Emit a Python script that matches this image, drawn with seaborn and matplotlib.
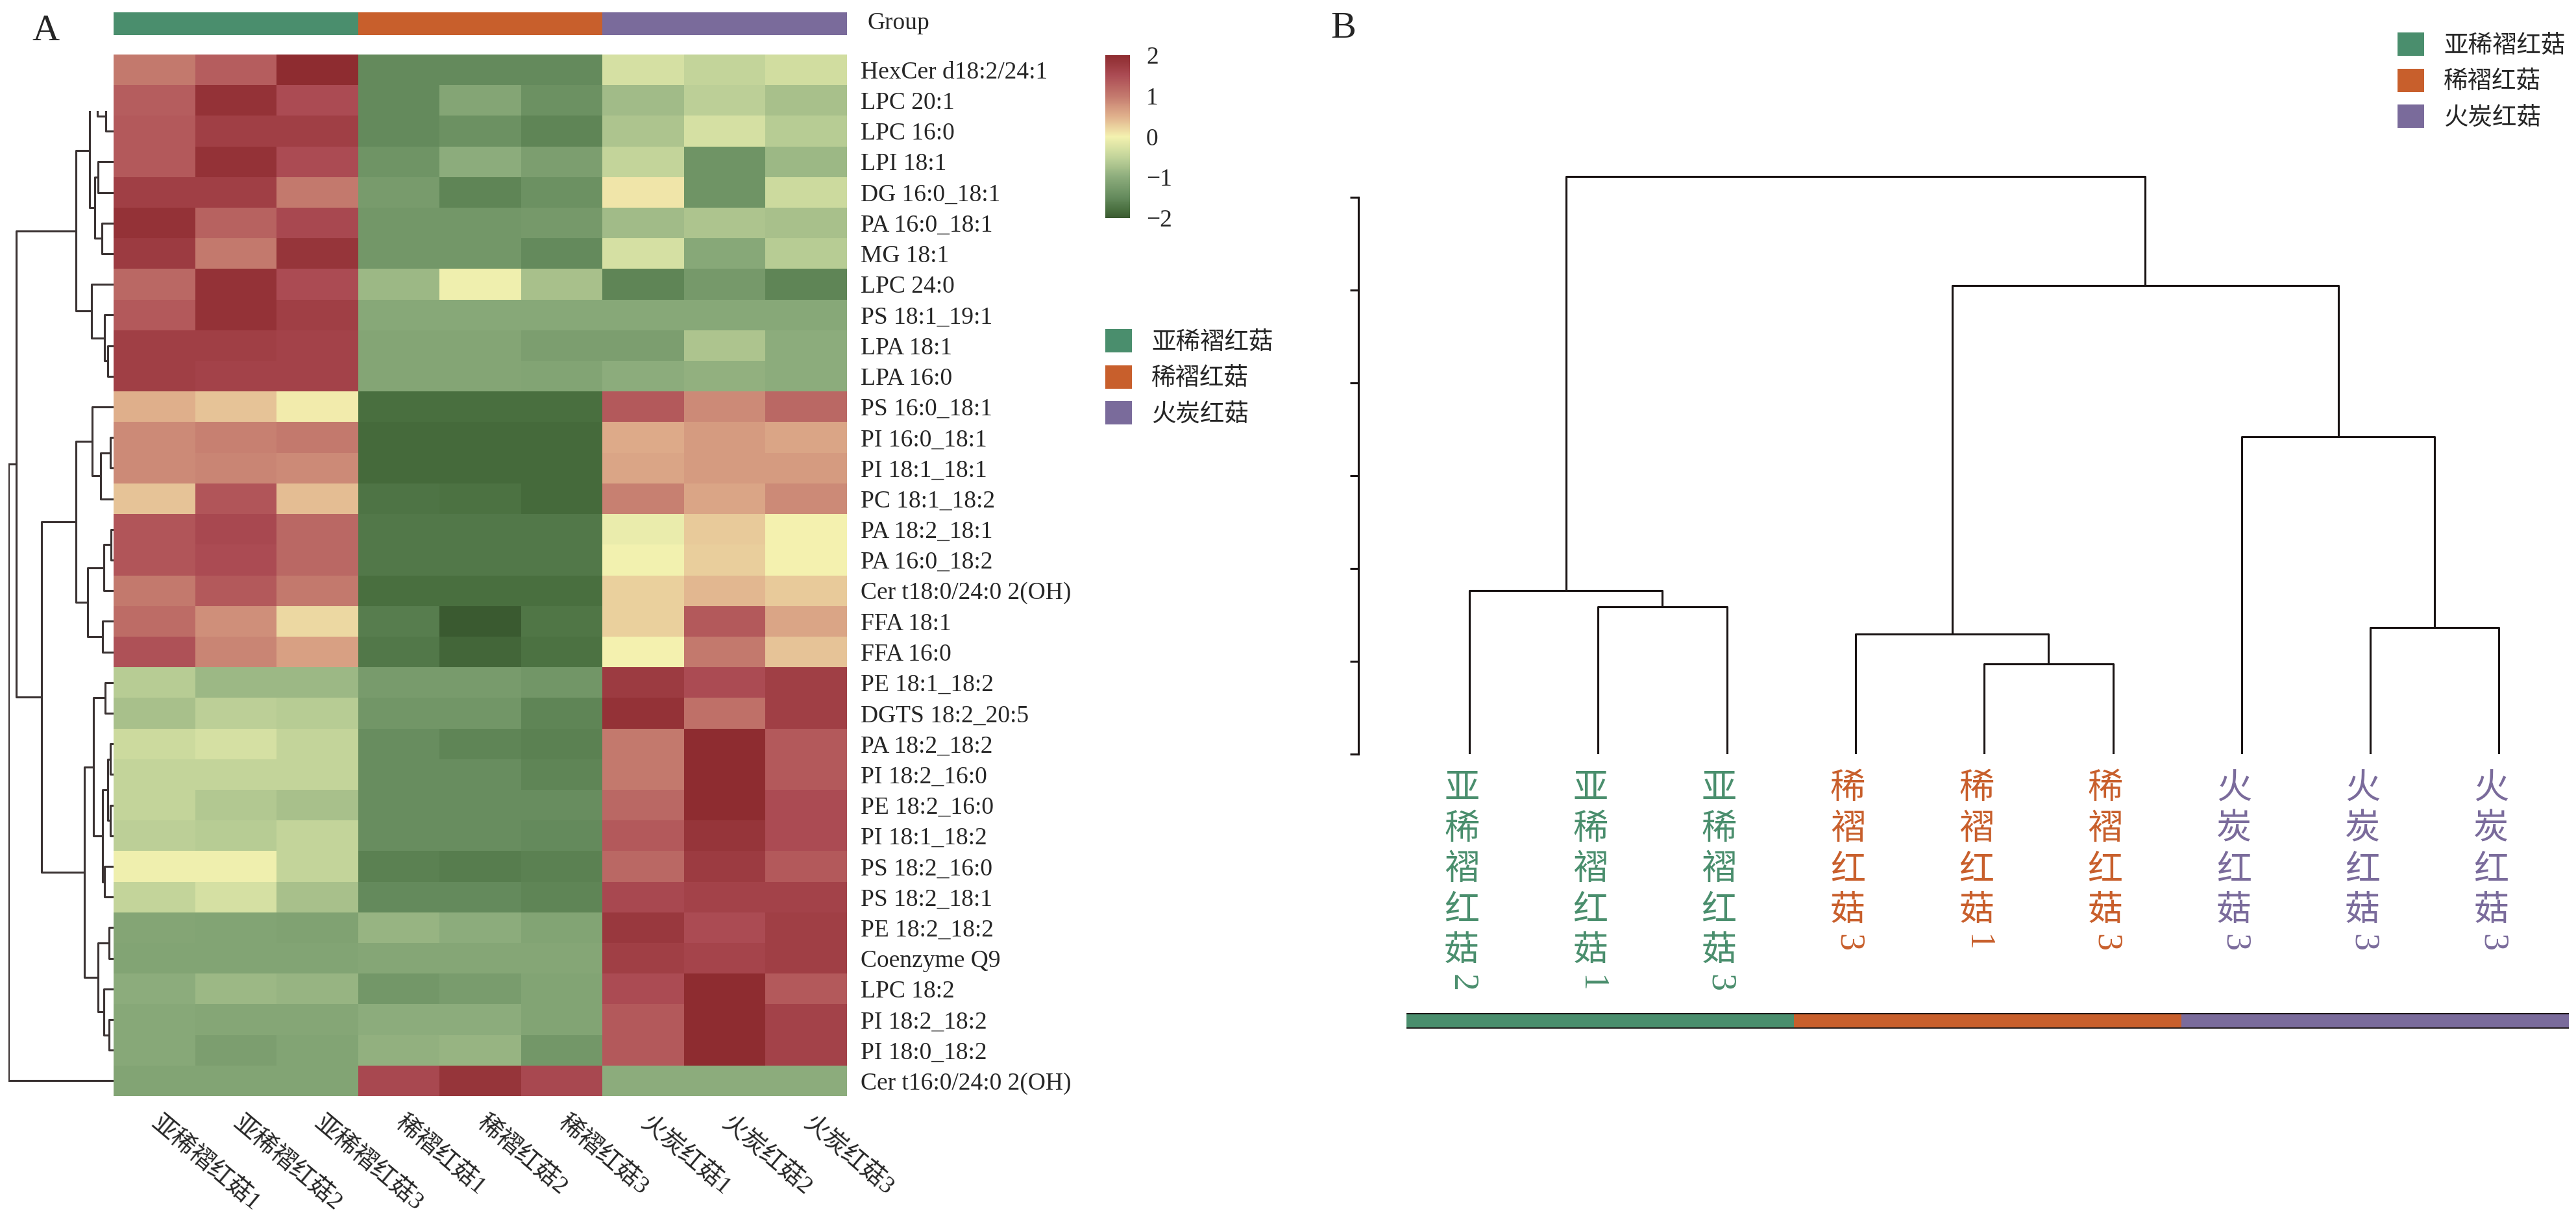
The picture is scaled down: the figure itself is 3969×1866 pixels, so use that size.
import numpy as np
import pandas as pd
import matplotlib
matplotlib.use('Agg')
import matplotlib.pyplot as plt
import matplotlib.transforms as mtransforms
import seaborn as sns
from matplotlib.colors import LinearSegmentedColormap, ListedColormap
from matplotlib.patches import Patch

# ---- data ----
ROW_LABELS = ['HexCer d18:2/24:1', 'LPC 20:1', 'LPC 16:0', 'LPI 18:1', 'DG 16:0_18:1',
              'PA 16:0_18:1', 'MG 18:1', 'LPC 24:0', 'PS 18:1_19:1', 'LPA 18:1', 'LPA 16:0',
              'PS 16:0_18:1', 'PI 16:0_18:1', 'PI 18:1_18:1', 'PC 18:1_18:2', 'PA 18:2_18:1',
              'PA 16:0_18:2', 'Cer t18:0/24:0 2(OH)', 'FFA 18:1', 'FFA 16:0', 'PE 18:1_18:2',
              'DGTS 18:2_20:5', 'PA 18:2_18:2', 'PI 18:2_16:0', 'PE 18:2_16:0', 'PI 18:1_18:2',
              'PS 18:2_16:0', 'PS 18:2_18:1', 'PE 18:2_18:2', 'Coenzyme Q9', 'LPC 18:2',
              'PI 18:2_18:2', 'PI 18:0_18:2', 'Cer t16:0/24:0 2(OH)']
COL_LABELS = ['亚稀褶红菇1', '亚稀褶红菇2', '亚稀褶红菇3', '稀褶红菇1', '稀褶红菇2', '稀褶红菇3',
              '火炭红菇1', '火炭红菇2', '火炭红菇3']
GROUP_NAMES = ['亚稀褶红菇', '稀褶红菇', '火炭红菇']
GROUP_CODES = [0, 0, 0, 1, 1, 1, 2, 2, 2]

# z-scores, one small table per species (rows follow ROW_LABELS)
VALS_YAXI = [
    [1.0, 1.3, 2.0], [1.3, 1.9, 1.5], [1.35, 1.7, 1.7], [1.35, 1.9, 1.5], [1.7, 1.7, 1.0],
    [1.9, 1.25, 1.55], [1.75, 1.0, 1.85], [1.2, 1.9, 1.5], [1.35, 1.9, 1.7], [1.7, 1.7, 1.65],
    [1.7, 1.65, 1.65], [0.5, 0.35, 0.05], [0.85, 0.95, 1.0], [0.85, 0.9, 0.85], [0.35, 1.4, 0.4],
    [1.4, 1.55, 1.2], [1.4, 1.5, 1.2], [1.0, 1.35, 1.0], [1.15, 0.8, 0.2], [1.45, 0.9, 0.65],
    [-0.6, -0.85, -0.85], [-0.75, -0.55, -0.6], [-0.4, -0.3, -0.5], [-0.5, -0.5, -0.5],
    [-0.5, -0.65, -0.75], [-0.55, -0.6, -0.5], [-0.05, -0.05, -0.5], [-0.5, -0.3, -0.75],
    [-1.1, -1.12, -1.15], [-1.12, -1.12, -1.12], [-1.0, -0.85, -0.9], [-1.05, -1.08, -1.08],
    [-1.05, -1.2, -1.12], [-1.12, -1.12, -1.12]]
VALS_XIZHE = [
    [-1.5, -1.5, -1.5], [-1.5, -1.1, -1.4], [-1.5, -1.4, -1.55], [-1.35, -1.0, -1.2],
    [-1.25, -1.55, -1.4], [-1.3, -1.3, -1.28], [-1.3, -1.3, -1.5], [-0.85, -0.05, -0.75],
    [-1.05, -1.05, -1.05], [-1.1, -1.1, -1.2], [-1.1, -1.1, -1.12], [-1.8, -1.8, -1.8],
    [-1.85, -1.85, -1.85], [-1.85, -1.85, -1.85], [-1.75, -1.78, -1.85], [-1.7, -1.7, -1.7],
    [-1.7, -1.7, -1.7], [-1.8, -1.8, -1.8], [-1.65, -2.0, -1.72], [-1.7, -1.88, -1.78],
    [-1.25, -1.25, -1.32], [-1.32, -1.32, -1.55], [-1.45, -1.55, -1.6], [-1.45, -1.45, -1.55],
    [-1.45, -1.45, -1.45], [-1.45, -1.45, -1.5], [-1.6, -1.65, -1.6], [-1.5, -1.5, -1.55],
    [-0.9, -1.0, -1.12], [-1.08, -1.08, -1.08], [-1.3, -1.22, -1.12], [-1.0, -1.0, -1.12],
    [-0.95, -0.9, -1.3], [1.55, 1.85, 1.55]]
VALS_HUOTAN = [
    [-0.3, -0.5, -0.35], [-0.8, -0.55, -0.75], [-0.7, -0.3, -0.6], [-0.5, -1.35, -0.85],
    [0.1, -1.35, -0.4], [-0.8, -0.7, -0.75], [-0.3, -1.05, -0.6], [-1.55, -1.28, -1.55],
    [-1.05, -1.05, -1.05], [-1.2, -0.7, -1.0], [-1.0, -0.95, -1.0], [1.35, 0.85, 1.2],
    [0.55, 0.7, 0.6], [0.6, 0.7, 0.7], [0.95, 0.6, 0.85], [-0.1, 0.3, 0.0], [-0.02, 0.28, 0.0],
    [0.25, 0.45, 0.3], [0.25, 1.35, 0.6], [0.0, 1.0, 0.35], [1.75, 1.5, 1.7], [1.9, 1.1, 1.7],
    [1.0, 2.0, 1.35], [1.0, 2.0, 1.35], [1.2, 2.0, 1.5], [1.35, 1.85, 1.5], [1.2, 1.75, 1.35],
    [1.55, 1.65, 1.65], [1.8, 1.5, 1.7], [1.7, 1.62, 1.7], [1.5, 2.0, 1.35], [1.35, 2.0, 1.65],
    [1.35, 2.0, 1.65], [-1.0, -1.0, -1.0]]

# row clustering: (child a, child b, height); ids >= 34 are earlier merges
ROW_MERGES = [
    (1, 2, 12), (0, 34, 25), (3, 4, 24), (5, 6, 18), (36, 37, 28), (35, 38, 36),
    (9, 10, 9), (8, 40, 14), (7, 41, 33), (39, 42, 57),
    (12, 13, 5), (44, 14, 20), (11, 45, 32), (15, 16, 4), (47, 17, 15), (18, 19, 17),
    (48, 49, 39), (46, 50, 57),
    (20, 21, 13), (22, 23, 5), (24, 25, 5), (53, 54, 9), (26, 27, 14), (55, 56, 17),
    (52, 57, 30), (28, 29, 7), (31, 32, 7), (30, 60, 15), (59, 61, 24), (58, 62, 44),
    (51, 63, 109), (43, 64, 147), (65, 33, 159)]

# sample clustering (panel B)
B_LEAF_LABELS = ['亚稀褶红菇2', '亚稀褶红菇1', '亚稀褶红菇3', '稀褶红菇3', '稀褶红菇1', '稀褶红菇3',
                 '火炭红菇3', '火炭红菇3', '火炭红菇3']
B_LEAF_GROUPS = [0, 0, 0, 1, 1, 1, 2, 2, 2]
B_MERGES = [(1, 2, 1.59), (0, 9, 1.76), (4, 5, 0.97), (3, 11, 1.29), (7, 8, 1.36),
            (6, 13, 3.42), (12, 14, 5.05), (10, 15, 6.22)]

# ---- style ----
W, H, DPI = 3969, 1866, 300
GROUP_COLORS = ['#4a8e6d', '#c85f2c', '#7a6b9b']
CMAP_STOPS = [(-2.0, '#3a5a30'), (-1.8, '#4a7040'), (-1.5, '#648a5c'), (-1.0, '#8cac7c'),
              (-0.5, '#c2d49a'), (0.0, '#f4f2b0'), (0.5, '#e0b08c'), (1.0, '#c47a6e'),
              (1.5, '#ac4c54'), (2.0, '#8e2c30')]

sns.set_theme(style='white')
plt.rcParams['font.family'] = ['Liberation Serif', 'Noto Sans CJK SC']
plt.rcParams['axes.unicode_minus'] = True

cmap = LinearSegmentedColormap.from_list('gyr', [((v + 2) / 4, c) for v, c in CMAP_STOPS])
grp_cmap = ListedColormap(GROUP_COLORS)

fig = plt.figure(figsize=(W / DPI, H / DPI), dpi=DPI)


def px_axes(x0, y0, x1, y1):
    return fig.add_axes([x0 / W, 1 - y1 / H, (x1 - x0) / W, (y1 - y0) / H])


def dendro_segments(merges, leaf_pos):
    n = len(leaf_pos)
    pos = {i: p for i, p in enumerate(leaf_pos)}
    hgt = {i: 0.0 for i in range(n)}
    segs = []
    for k, (a, b, h) in enumerate(merges):
        segs.append(([pos[a], pos[a], pos[b], pos[b]], [hgt[a], h, h, hgt[b]]))
        pos[n + k] = (pos[a] + pos[b]) / 2
        hgt[n + k] = h
    return segs


# ---- panel A ----
data = np.hstack([VALS_YAXI, VALS_XIZHE, VALS_HUOTAN])
df = pd.DataFrame(data, index=ROW_LABELS, columns=COL_LABELS)

ax_hm = px_axes(175, 84, 1305, 1689)
ax_cb = px_axes(1703, 85, 1741, 336)
sns.heatmap(df, ax=ax_hm, cmap=cmap, vmin=-2, vmax=2, cbar_ax=ax_cb,
            xticklabels=True, yticklabels=True)
ax_hm.yaxis.tick_right()
ax_hm.set_yticklabels(ROW_LABELS, rotation=0, fontsize=9)
ax_hm.tick_params(axis='y', length=0, pad=5)
ax_hm.set_xticklabels(COL_LABELS, rotation=-40, ha='left', va='center',
                      rotation_mode='anchor', fontsize=9)
ax_hm.tick_params(axis='x', length=0, pad=9)

cb = ax_hm.collections[0].colorbar
cb.set_ticks([-2, -1, 0, 1, 2])
cb.outline.set_visible(False)
cb.ax.tick_params(direction='in', length=4.5, width=0.9, color='black', labelsize=9, pad=6)
for t in (cb.ax.yaxis.get_major_ticks()[0], cb.ax.yaxis.get_major_ticks()[-1]):
    t.tick1line.set_visible(False)
    t.tick2line.set_visible(False)

ax_grp = px_axes(175, 19, 1305, 54)
sns.heatmap(np.array([GROUP_CODES]), ax=ax_grp, cmap=grp_cmap, vmin=-0.5, vmax=2.5,
            cbar=False, xticklabels=False, yticklabels=False)
fig.text(1336 / W, 1 - 36 / H, 'Group', fontsize=9, va='center', ha='left')

ax_rd = px_axes(13, 171, 175, 1689)
for ys, xs in dendro_segments(ROW_MERGES, [i + 0.5 for i in range(len(ROW_LABELS))]):
    ax_rd.plot(xs, ys, color='#3b3333', lw=0.75, solid_capstyle='butt')
ax_rd.set_xlim(159, 0)
ax_rd.set_ylim(len(ROW_LABELS), 1.84)
ax_rd.axis('off')

handles = [Patch(facecolor=c, edgecolor='none') for c in GROUP_COLORS]
fig.legend(handles, GROUP_NAMES, loc='upper left', bbox_to_anchor=(1703 / W, 1 - 507 / H),
           frameon=False, fontsize=9, handlelength=1.1, handleheight=1.1,
           handletextpad=0.8, labelspacing=0.45, borderpad=0, borderaxespad=0)

fig.text(49 / W, 1 - 48 / H, 'A', fontsize=14, va='center', ha='left')

# ---- panel B ----
ax_b = px_axes(2093, 268, 3900, 1162)
for xs, ys in dendro_segments(B_MERGES, list(range(len(B_LEAF_LABELS)))):
    ax_b.plot(xs, ys, color='#1a1414', lw=0.75, solid_capstyle='butt')
ax_b.set_xlim(-0.8625, 8.25)
ax_b.set_ylim(0, 6.25)
for s in ['top', 'right', 'bottom']:
    ax_b.spines[s].set_visible(False)
ax_b.spines['left'].set_bounds(0, 6)
ax_b.spines['left'].set_color('#1a1414')
ax_b.spines['left'].set_linewidth(0.75)
ax_b.set_yticks(range(7))
ax_b.set_yticklabels([])
ax_b.set_xticks([])
ax_b.tick_params(axis='y', direction='out', length=3.2, width=0.75, color='#1a1414', left=True)

trans = mtransforms.blended_transform_factory(ax_b.transData, fig.transFigure)
for i, lab in enumerate(B_LEAF_LABELS):
    col = GROUP_COLORS[B_LEAF_GROUPS[i]]
    body, digit = lab[:-1], lab[-1]
    for k, ch in enumerate(body):
        ax_b.text(i - 0.06, 1 - (1217 + 62.5 * k) / H, ch, transform=trans, color=col,
                  fontsize=13, ha='center', va='center', clip_on=False)
    ax_b.text(i - 0.06, 1 - (1217 + 62.5 * (len(body) - 1) + 48) / H, digit, transform=trans,
              color=col, fontsize=13, ha='center', va='center', rotation=-90, clip_on=False)

ax_bar = px_axes(2167, 1561, 3958, 1585)
sns.heatmap(np.array([[0, 1, 2]]), ax=ax_bar, cmap=grp_cmap, vmin=-0.5, vmax=2.5,
            cbar=False, xticklabels=False, yticklabels=False)
ax_bar.axhline(0, color='#1a1414', lw=0.9)
ax_bar.axhline(1, color='#1a1414', lw=0.9)

fig.legend(handles, GROUP_NAMES, loc='upper left', bbox_to_anchor=(3694 / W, 1 - 50 / H),
           frameon=False, fontsize=9, handlelength=1.1, handleheight=1.1,
           handletextpad=0.8, labelspacing=0.45, borderpad=0, borderaxespad=0)

fig.text(2050 / W, 1 - 44 / H, 'B', fontsize=14, va='center', ha='left')

fig.savefig('out.png', dpi=DPI, facecolor='white')
